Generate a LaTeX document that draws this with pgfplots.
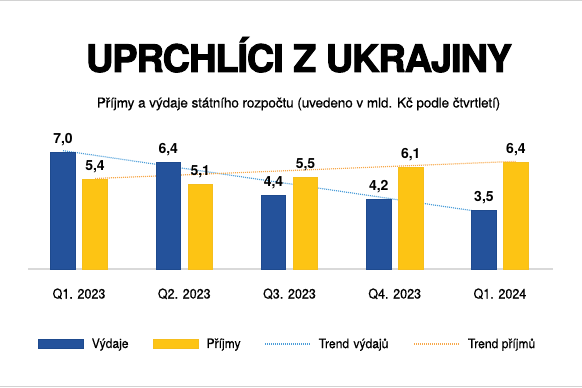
\documentclass[border=0pt]{standalone}
\usepackage{fontspec}
\setmainfont{TeX Gyre Heros}
\newfontfamily\condfont[FakeStretch=0.93,FakeBold=0.4]{TeX Gyre Heros}
\newfontfamily\subfont[FakeBold=0.5,LetterSpace=-1]{TeX Gyre Heros}
\newfontfamily\titlefont[FakeBold=2.5,LetterSpace=-3]{texgyreheros-bold.otf}
\usepackage{pgfplots}
\pgfplotsset{compat=1.18}
\definecolor{barblue}{HTML}{24529B}
\definecolor{barblueb}{HTML}{1E4A8E}
\definecolor{baryellow}{HTML}{FDC414}
\definecolor{baryellowb}{HTML}{F5BE1E}
\definecolor{trendblue}{HTML}{4A9CD8}
\definecolor{trendorange}{HTML}{F7A84A}
\definecolor{axisgray}{HTML}{D9D9D9}
\definecolor{framegray}{HTML}{D2D2D2}
\begin{document}
\begin{tikzpicture}
\useasboundingbox (0,0) rectangle (582bp,388bp);
\draw[framegray,line width=1.2bp] (0,387.4bp) -- (582bp,387.4bp);
\draw[framegray,line width=1.2bp] (0,1.2bp) -- (582bp,1.2bp);
\node[anchor=base,inner sep=0] at (299bp,316bp) {\titlefont\fontsize{38bp}{40bp}\selectfont UPRCHLÍCI Z UKRAJINY};
\node[anchor=base,inner sep=0] at (298.5bp,280.5bp) {\subfont\fontsize{13.6bp}{16bp}\selectfont Příjmy a výdaje státního rozpočtu (uvedeno v mld. Kč podle čtvrtletí)};
\begin{axis}[
  at={(28bp,119bp)}, anchor=south west,
  scale only axis, width=525bp, height=125bp,
  xmin=-0.485, xmax=4.504, ymin=0, ymax=7.5,
  clip=false,
  axis x line*=bottom, axis y line=none,
  x axis line style={-, draw=axisgray, line width=1.5bp},
  ytick=\empty,
  xtick={0,1,2,3,4},
  xticklabels={Q1. 2023, Q2. 2023, Q3. 2023, Q4. 2023, Q1. 2024},
  major tick length=0pt, xtick style={draw=none},
  xticklabel style={font=\condfont\fontsize{13.5bp}{16bp}\selectfont, anchor=base, yshift=-29.5bp, inner sep=0pt},
  /pgf/number format/.cd, fixed, fixed zerofill, precision=1, use comma, assume math mode=true, /pgfplots/.cd,
  nodes near coords style={font=\bfseries\fontsize{14bp}{16bp}\selectfont, anchor=base, yshift=9bp, inner sep=0pt, text=black},
  legend style={at={(axis description cs:0.019,-0.6)}, anchor=west, draw=none, fill=none, inner sep=0pt, outer sep=0pt,
    font=\condfont\fontsize{13bp}{15bp}\selectfont,
    nodes={inner sep=0pt, align=left},
    /tikz/every odd column/.append style={column sep=8bp},
    /tikz/every even column/.append style={column sep=0bp}},
  legend columns=4,
  legend cell align=left,
]
% trend lines (behind bars)
\addplot[forget plot, trendblue, line width=1.2bp, dash pattern=on 1bp off 1bp] coordinates {(-0.152,7.1) (3.848,3.4)};
\addplot[forget plot, trendorange, line width=1.2bp, dash pattern=on 1bp off 1bp] coordinates {(0.152,5.43) (4.152,6.46)};
% bars
\addplot[forget plot, ybar, bar width=24.5bp, bar shift=-16bp, fill=barblue, draw=barblueb, line width=0.8bp,
  nodes near coords, every node near coord/.append style={xshift=-16bp}]
  coordinates {(0,7.0) (1,6.4) (2,4.4) (3,4.2) (4,3.5)};
\addplot[forget plot, ybar, bar width=24.5bp, bar shift=16bp, fill=baryellow, draw=baryellowb, line width=0.8bp,
  nodes near coords, every node near coord/.append style={xshift=16bp}]
  coordinates {(0,5.4) (1,5.1) (2,5.5) (3,6.1) (4,6.4)};
% legend
\addlegendimage{legend image code/.code={\filldraw[fill=barblue,draw=barblueb,line width=0.8bp] (0bp,-4.5bp) rectangle (45bp,4.5bp);}}
\addlegendentry[text width=61bp]{Výdaje}
\addlegendimage{legend image code/.code={\filldraw[fill=baryellow,draw=baryellowb,line width=0.8bp] (0bp,-4.5bp) rectangle (45bp,4.5bp);}}
\addlegendentry[text width=58bp]{Příjmy}
\addlegendimage{legend image code/.code={\draw[trendblue,line width=1.2bp,dash pattern=on 1bp off 1bp] (0bp,0bp) -- (45bp,0bp);}}
\addlegendentry[text width=95bp]{Trend výdajů}
\addlegendimage{legend image code/.code={\draw[trendorange,line width=1.2bp,dash pattern=on 1bp off 1bp] (0bp,0bp) -- (45bp,0bp);}}
\addlegendentry{Trend příjmů}
\end{axis}
\end{tikzpicture}
\end{document}
